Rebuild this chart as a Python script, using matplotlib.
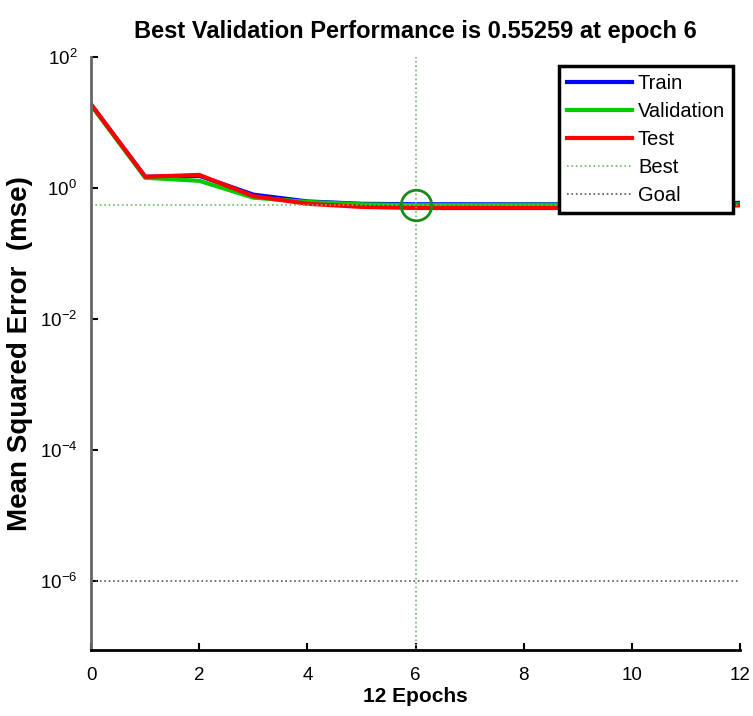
import numpy as np
import matplotlib
matplotlib.use('Agg')
import matplotlib.pyplot as plt

plt.rcParams['font.family'] = ['Liberation Sans', 'DejaVu Sans']
plt.rcParams['mathtext.fontset'] = 'custom'
plt.rcParams['mathtext.rm'] = 'Liberation Sans'
plt.rcParams['mathtext.it'] = 'Liberation Sans'

# Curvas de desempenho do treinamento (mse por época)
epocas = np.arange(0, 13)
mse_train = [19.0, 1.50, 1.55, 0.80, 0.63, 0.58, 0.57, 0.57, 0.57, 0.57, 0.57, 0.57, 0.60]
mse_valid = [18.5, 1.45, 1.30, 0.72, 0.62, 0.57, 0.55259, 0.556, 0.56, 0.56, 0.56, 0.56, 0.57]
mse_test = [19.0, 1.50, 1.60, 0.76, 0.58, 0.52, 0.50, 0.50, 0.50, 0.50, 0.51, 0.52, 0.55]

best_epoca = 6
best_valor = 0.55259
goal = 1e-6

fig = plt.figure(figsize=(7.53, 7.16), dpi=100)
ax = fig.add_axes([0.121, 0.092, 0.862, 0.828])

ax.semilogy(epocas, mse_train, color='#0000ff', lw=3, label='Train')
ax.semilogy(epocas, mse_valid, color='#00cc00', lw=3, label='Validation')
ax.semilogy(epocas, mse_test, color='#ff0000', lw=3, label='Test')

# Linhas de referência: melhor época e meta
ax.axvline(best_epoca, color='#66bb66', ls=':', lw=1.2)
ax.axhline(best_valor, color='#66bb66', ls=':', lw=1.2, label='Best')
ax.axhline(goal, color='#555555', ls=':', lw=1.2, label='Goal')
ax.plot(best_epoca, best_valor, 'o', mfc='none', mec='#1a8a1a', ms=22, mew=2)

ax.set_xlim(0, 12)
ax.set_ylim(10**-7.05, 1e2)
ax.set_xticks(range(0, 13, 2))
ax.set_yticks([1e2, 1, 1e-2, 1e-4, 1e-6])
ax.minorticks_off()
ax.tick_params(direction='in', length=5, width=1.5, labelsize=13.5)
ax.tick_params(axis='x', pad=12)
ax.tick_params(axis='y', pad=10)

for lado in ['top', 'right']:
    ax.spines[lado].set_visible(False)
ax.spines['left'].set_color('#666666')
ax.spines['left'].set_linewidth(2)
ax.spines['bottom'].set_linewidth(2)

ax.set_title('Best Validation Performance is 0.55259 at epoch 6',
             fontsize=17, fontweight='bold', pad=14)
ax.set_xlabel('12 Epochs', fontsize=15, fontweight='bold', labelpad=2)
ax.set_ylabel('Mean Squared Error  (mse)', fontsize=20, fontweight='bold', labelpad=5)

leg = ax.legend(loc='upper right', fontsize=14.5, fancybox=False, framealpha=1,
                edgecolor='black', borderpad=0.4, handlelength=3.2,
                labelspacing=0.45, handletextpad=0.3, borderaxespad=0,
                bbox_to_anchor=(0.989, 0.986))
leg.get_frame().set_linewidth(2.5)

fig.savefig('out.png', dpi=100)
